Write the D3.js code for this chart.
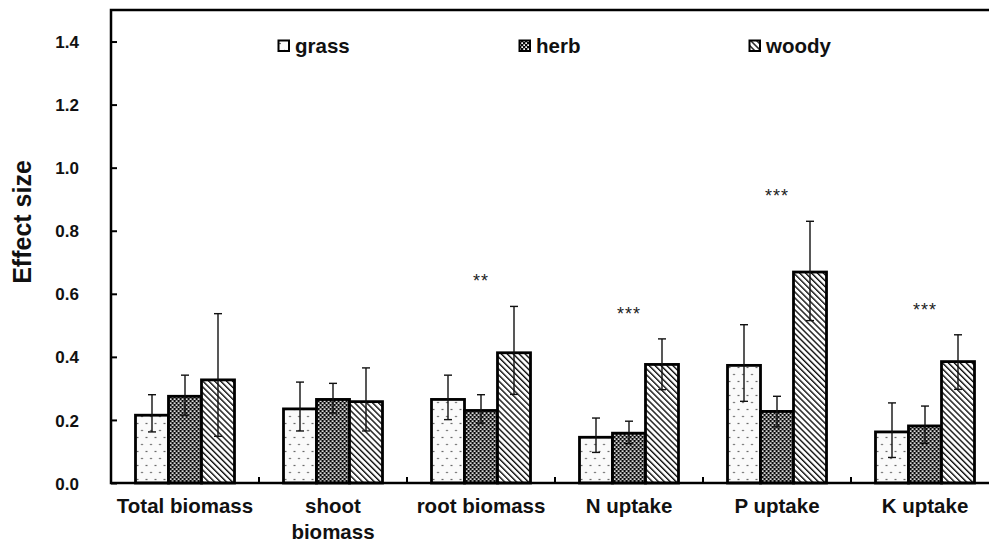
<!DOCTYPE html>
<html>
<head>
<meta charset="utf-8">
<script src="https://cdn.jsdelivr.net/npm/d3@7"></script>
<style>
  html, body { margin: 0; padding: 0; background: #fff; }
  svg { display: block; }
  text { font-family: "Liberation Sans", Arial, sans-serif; }
</style>
</head>
<body>
<svg id="chart" width="989" height="544"></svg>
<script>
// Effect sizes by plant functional group, with confidence limits
const categories = ["Total biomass", "shoot\nbiomass", "root biomass", "N uptake", "P uptake", "K uptake"];
const seriesNames = ["grass", "herb", "woody"];

const grass     = [0.215, 0.235, 0.265, 0.145, 0.373, 0.162];
const grassLow  = [0.162, 0.165, 0.201, 0.097, 0.259, 0.081];
const grassHigh = [0.280, 0.320, 0.342, 0.206, 0.502, 0.254];

const herb      = [0.275, 0.265, 0.230, 0.158, 0.227, 0.181];
const herbLow   = [0.215, 0.222, 0.190, 0.125, 0.178, 0.126];
const herbHigh  = [0.342, 0.316, 0.280, 0.196, 0.275, 0.244];

const woody     = [0.327, 0.258, 0.413, 0.376, 0.669, 0.385];
const woodyLow  = [0.148, 0.165, 0.281, 0.296, 0.515, 0.297];
const woodyHigh = [0.537, 0.365, 0.560, 0.457, 0.830, 0.470];

const significance = ["", "", "**", "***", "***", "***"];
const yTicks = [0, 0.2, 0.4, 0.6, 0.8, 1.0, 1.2, 1.4];

const svg = d3.select("#chart");

// plot frame (the right edge runs just past the page)
const plot = { left: 111, right: 999, top: 10, bottom: 483 };

const x0 = d3.scaleBand().domain(d3.range(categories.length))
  .range([plot.left, plot.right]).paddingInner(0).paddingOuter(0);
const groupWidth = 99;
const x1 = d3.scaleBand().domain(seriesNames).range([0, groupWidth]).padding(0);
const y = d3.scaleLinear().domain([0, 1.5]).range([plot.bottom, plot.top]);

// fill patterns
const defs = svg.append("defs");

const pDots = defs.append("pattern").attr("id", "pat-grass")
  .attr("patternUnits", "userSpaceOnUse").attr("width", 9).attr("height", 14);
pDots.append("rect").attr("width", 9).attr("height", 14).attr("fill", "#fafafa");
pDots.append("circle").attr("cx", 2).attr("cy", 3.5).attr("r", 0.8).attr("fill", "#333");
pDots.append("circle").attr("cx", 6.5).attr("cy", 10.5).attr("r", 0.8).attr("fill", "#333");

const pCheck = defs.append("pattern").attr("id", "pat-herb")
  .attr("patternUnits", "userSpaceOnUse").attr("width", 4).attr("height", 4);
pCheck.append("rect").attr("width", 4).attr("height", 4).attr("fill", "#0a0a0a");
pCheck.append("rect").attr("x", 0.3).attr("y", 0.3).attr("width", 1.7).attr("height", 1.7).attr("fill", "#fff");
pCheck.append("rect").attr("x", 2.3).attr("y", 2.3).attr("width", 1.7).attr("height", 1.7).attr("fill", "#fff");

const pDiag = defs.append("pattern").attr("id", "pat-woody")
  .attr("patternUnits", "userSpaceOnUse").attr("width", 4.2).attr("height", 4.2)
  .attr("patternTransform", "rotate(-45)");
pDiag.append("rect").attr("width", 4.2).attr("height", 4.2).attr("fill", "#fff");
pDiag.append("rect").attr("x", 0).attr("y", 0).attr("width", 1.4).attr("height", 4.2).attr("fill", "#111");

const fills = { grass: "url(#pat-grass)", herb: "url(#pat-herb)", woody: "url(#pat-woody)" };
const seriesData = {
  grass: { v: grass, lo: grassLow, hi: grassHigh },
  herb:  { v: herb,  lo: herbLow,  hi: herbHigh },
  woody: { v: woody, lo: woodyLow, hi: woodyHigh }
};

// bars
const groups = svg.append("g").selectAll("g")
  .data(categories.map((c, i) => i))
  .join("g")
  .attr("transform", i => `translate(${x0(i) + (x0.bandwidth() - groupWidth) / 2},0)`);

groups.selectAll("rect.bar")
  .data(i => seriesNames.map(s => ({ s, i, v: seriesData[s].v[i], lo: seriesData[s].lo[i], hi: seriesData[s].hi[i] })))
  .join("rect")
  .attr("class", "bar")
  .attr("x", d => x1(d.s))
  .attr("width", x1.bandwidth())
  .attr("y", d => y(d.v))
  .attr("height", d => y(0) - y(d.v))
  .attr("fill", d => fills[d.s])
  .attr("stroke", "#000")
  .attr("stroke-width", 2.8);

// error bars
const capHalf = 4;
const eb = groups.selectAll("g.err")
  .data(i => seriesNames.map(s => ({ s, i, lo: seriesData[s].lo[i], hi: seriesData[s].hi[i] })))
  .join("g").attr("class", "err")
  .attr("stroke", "#111").attr("stroke-width", 1.4);
eb.append("line")
  .attr("x1", d => x1(d.s) + x1.bandwidth() / 2).attr("x2", d => x1(d.s) + x1.bandwidth() / 2)
  .attr("y1", d => y(d.lo)).attr("y2", d => y(d.hi));
eb.append("line")
  .attr("x1", d => x1(d.s) + x1.bandwidth() / 2 - capHalf).attr("x2", d => x1(d.s) + x1.bandwidth() / 2 + capHalf)
  .attr("y1", d => y(d.hi)).attr("y2", d => y(d.hi));
eb.append("line")
  .attr("x1", d => x1(d.s) + x1.bandwidth() / 2 - capHalf).attr("x2", d => x1(d.s) + x1.bandwidth() / 2 + capHalf)
  .attr("y1", d => y(d.lo)).attr("y2", d => y(d.lo));

// significance marks above each group
svg.append("g").selectAll("text")
  .data(significance.map((s, i) => ({ s, i })).filter(d => d.s))
  .join("text")
  .attr("x", d => x0(d.i) + x0.bandwidth() / 2)
  .attr("y", d => y(Math.max(grassHigh[d.i], herbHigh[d.i], woodyHigh[d.i])) - 19)
  .attr("text-anchor", "middle")
  .attr("font-size", 18)
  .attr("letter-spacing", 1)
  .attr("fill", "#222")
  .text(d => d.s);

// left axis with inward ticks
const yAxis = d3.axisRight(y).tickValues(yTicks).tickSize(6).tickFormat(d3.format(".1f"));
const yg = svg.append("g").attr("transform", `translate(${plot.left},0)`).call(yAxis);
yg.select(".domain").remove();
yg.selectAll(".tick line").attr("stroke", "#000").attr("stroke-width", 2);
yg.selectAll(".tick text")
  .attr("x", -32).attr("dy", "0.36em")
  .attr("text-anchor", "end")
  .attr("font-size", 17).attr("font-weight", "bold").attr("fill", "#111");

// category boundary ticks on the bottom axis
svg.append("g").selectAll("line")
  .data(d3.range(1, categories.length))
  .join("line")
  .attr("x1", i => x0(i)).attr("x2", i => x0(i))
  .attr("y1", plot.bottom).attr("y2", plot.bottom - 6)
  .attr("stroke", "#000").attr("stroke-width", 2);

// frame
svg.append("rect")
  .attr("x", plot.left).attr("y", plot.top)
  .attr("width", plot.right - plot.left).attr("height", plot.bottom - plot.top)
  .attr("fill", "none").attr("stroke", "#000").attr("stroke-width", 2.5);

// category labels
const catLabels = svg.append("g").selectAll("text")
  .data(categories.map((c, i) => ({ c, i })))
  .join("text")
  .attr("x", d => x0(d.i) + x0.bandwidth() / 2)
  .attr("y", 513)
  .attr("text-anchor", "middle")
  .attr("font-size", 20.5).attr("font-weight", "bold").attr("fill", "#111");
catLabels.selectAll("tspan")
  .data(d => d.c.split("\n").map((t, k) => ({ t, k, x: x0(d.i) + x0.bandwidth() / 2 })))
  .join("tspan")
  .attr("x", d => d.x)
  .attr("dy", d => d.k === 0 ? 0 : 26)
  .text(d => d.t);

// y-axis title
svg.append("text")
  .attr("transform", "translate(31,222) rotate(-90)")
  .attr("text-anchor", "middle")
  .attr("font-size", 25).attr("font-weight", "bold").attr("fill", "#111")
  .text("Effect size");

// legend
const legendX = [278, 519, 749];
const leg = svg.append("g").selectAll("g")
  .data(seriesNames.map((s, k) => ({ s, k })))
  .join("g")
  .attr("transform", d => `translate(${legendX[d.k]},40)`);
leg.append("rect")
  .attr("x", 0.5).attr("y", 0.5).attr("width", 10.5).attr("height", 10.5)
  .attr("fill", d => fills[d.s]).attr("stroke", "#000").attr("stroke-width", 2);
leg.append("text")
  .attr("x", 17).attr("y", 13)
  .attr("font-size", 20.5).attr("font-weight", "bold").attr("fill", "#111")
  .text(d => d.s);
</script>
</body>
</html>
